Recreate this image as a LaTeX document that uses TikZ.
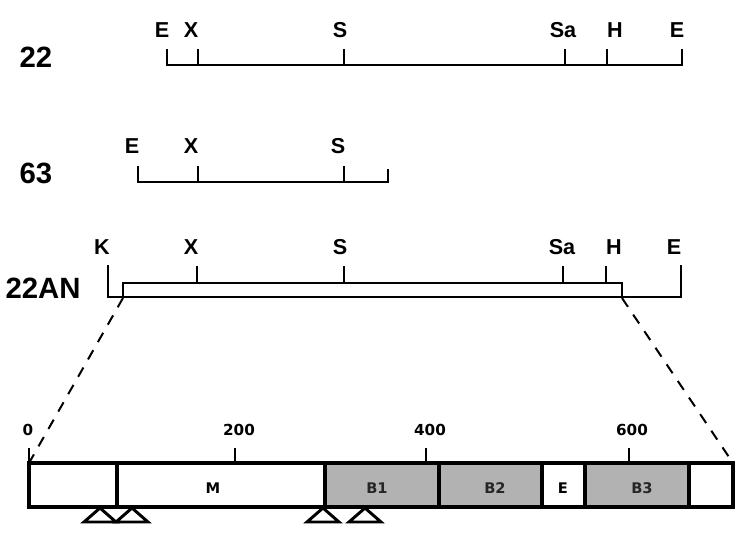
\documentclass[tikz,border=0pt]{standalone}
\usepackage{fontspec}
\setmainfont{Liberation Sans}
\newfontfamily\scalefont{DejaVu Sans}
\begin{document}
\begin{tikzpicture}[x=0.75pt,y=-0.75pt,
  clone/.style={font=\fontsize{22}{22}\selectfont\bfseries},
  site/.style={font=\fontsize{16.2}{16.2}\selectfont\bfseries},
  scalelbl/.style={font=\scalefont\fontsize{11.4}{11.4}\selectfont\bfseries},
  dom/.style={font=\scalefont\fontsize{11}{11}\selectfont\bfseries},
  map/.style={line width=2.2pt},
  cut/.style={line width=1.6pt},
  bar/.style={line width=2.5pt}]
\useasboundingbox (0,0) rectangle (747,533);

  % Clone 22
  \node[clone] (c22) at (36,57) {22};
  \draw[map] (167,49) -- (167,65) -- (682,65) -- (682,49);
  \foreach \x in {198,344,565,607} {
    \draw[cut] (\x,49) -- (\x,65);
  }
  \node[site] (e22a) at (162,30) {E};
  \node[site] (x22) at (191,30) {X};
  \node[site] (s22) at (340,30) {S};
  \node[site] (sa22) at (563,30) {Sa};
  \node[site] (h22) at (615,30) {H};
  \node[site] (e22b) at (677,30) {E};

  % Clone 63
  \node[clone] (c63) at (36,173) {63};
  \draw[map] (138,166) -- (138,182) -- (388,182) -- (388,169);
  \foreach \x in {198,344} {
    \draw[cut] (\x,166) -- (\x,182);
  }
  \node[site] (e63) at (132,146) {E};
  \node[site] (x63) at (191,146) {X};
  \node[site] (s63) at (338,146) {S};

  % Clone 22AN with the insert
  \node[clone] (c22an) at (43,288) {22AN};
  \draw[map] (108,265) -- (108,297) -- (681,297) -- (681,265);
  \draw[map] (123,283) rectangle (622,297);
  \foreach \x in {197,344,563,606} {
    \draw[cut] (\x,266) -- (\x,283);
  }
  \node[site] (k22an) at (102,247) {K};
  \node[site] (x22an) at (191,247) {X};
  \node[site] (s22an) at (340,247) {S};
  \node[site] (sa22an) at (562,247) {Sa};
  \node[site] (h22an) at (614,247) {H};
  \node[site] (e22an) at (674,247) {E};

  \coordinate (insL) at (123,298);
  \coordinate (insR) at (622,298);
  \coordinate (barL) at (29,463);
  \coordinate (barR) at (733,463);

  % Expansion lines
  \draw[line width=1.5pt, dash pattern=on 8pt off 7pt] (insL) -- (barL);
  \draw[line width=1.5pt, dash pattern=on 8pt off 7pt] (insR) -- (barR);

  % Coding bar
  \foreach \a/\b/\f in {29/117/white, 117/325/white, 325/439/black!30,
                        439/542/black!30, 542/585/white, 585/689/black!30, 689/733/white} {
    \filldraw[bar, fill=\f] (\a,463) rectangle (\b,507);
  }
  \node[dom] (dm) at (213,488) {M};
  \node[dom, black!85] (db1) at (377,488) {B1};
  \node[dom, black!85] (db2) at (495,488) {B2};
  \node[dom] (de) at (563,488) {E};
  \node[dom, black!85] (db3) at (642,488) {B3};

  % Scale
  \foreach \x in {29,235,426,629} {
    \draw[cut] (\x,448) -- (\x,463);
  }
  \node[scalelbl] (p0) at (28,430) {0};
  \node[scalelbl] (p200) at (239,430) {200};
  \node[scalelbl] (p400) at (430,430) {400};
  \node[scalelbl] (p600) at (632,430) {600};

  % Sites below the bar
  \foreach \x in {100,132,323,365} {
    \filldraw[map, fill=white, line join=miter] (\x,508) -- (\x+16,522) -- (\x-16,522) -- cycle;
  }
\end{tikzpicture}
\end{document}
